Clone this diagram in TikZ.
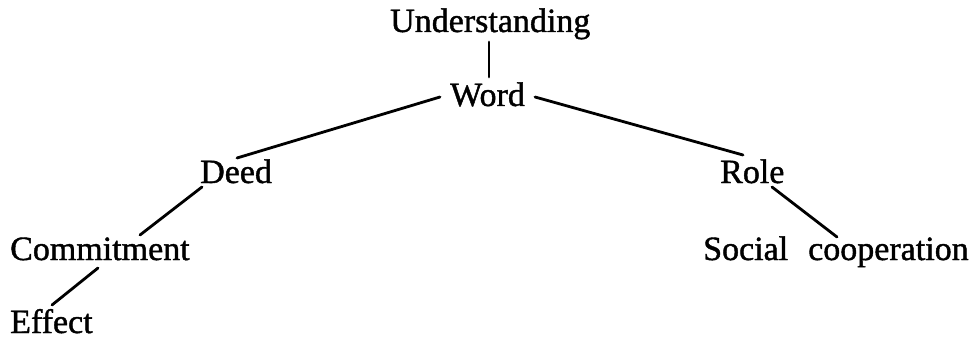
\documentclass[tikz,border=0pt]{standalone}
\usepackage{fontspec}
\setmainfont{Liberation Serif}[FakeBold=1.2]
\usetikzlibrary{calc}
\begin{document}
\begin{tikzpicture}[x=1pt,y=-1pt,
  lbl/.style={inner sep=0pt,anchor=base west,font=\fontsize{34}{34}\selectfont},
  link/.style={line width=2.8pt,line cap=round}]
\useasboundingbox (0,0) rectangle (973,339);
\node[lbl] (U) at (390,32) {Understanding};
\node[lbl] (W) at (450,106) {Word};
\node[lbl] (D) at (200,183) {Deed};
\node[lbl] (R) at (720,183) {Role};
\node[lbl] (C) at (10,260) {Commitment};
\node[lbl] (S) at (703,260) {Social\hspace{20pt}cooperation};
\node[lbl] (E) at (10,333) {Effect};
\draw[link] ($(U.base west)+(99,10)$) -- ($(W.base west)+(39,-29)$);
\draw[link] ($(W.base west)+(-10,-9)$) -- ($(D.base west)+(37,-25)$);
\draw[link] ($(W.base west)+(85,-9)$) -- ($(R.base west)+(23,-28)$);
\draw[link] ($(D.base west)+(2,4)$) -- ($(C.base west)+(130,-25)$);
\draw[link] ($(R.base west)+(52,4)$) -- ($(S.base west)+(134,-23)$);
\draw[link] ($(C.base west)+(88,8)$) -- ($(E.base west)+(42,-28)$);
\end{tikzpicture}
\end{document}
